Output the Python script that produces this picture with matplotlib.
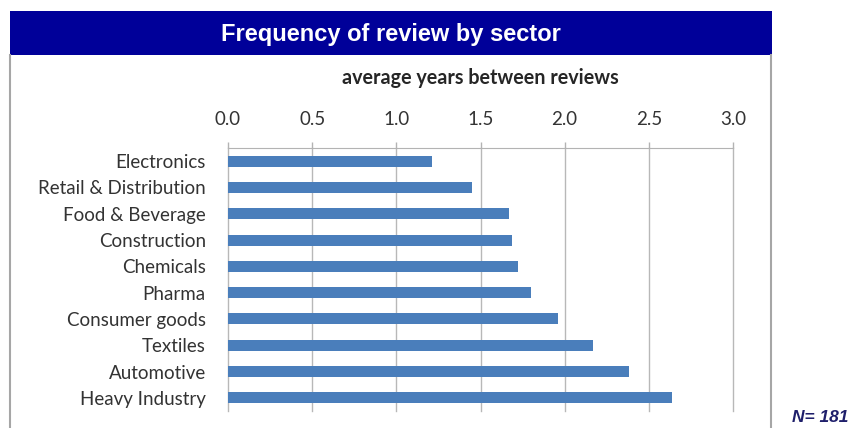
import matplotlib.pyplot as plt
from matplotlib.patches import Rectangle
from matplotlib.lines import Line2D

sectors = [
    "Electronics",
    "Retail & Distribution",
    "Food & Beverage",
    "Construction",
    "Chemicals",
    "Pharma",
    "Consumer goods",
    "Textiles",
    "Automotive",
    "Heavy Industry",
]
years = [1.21, 1.45, 1.67, 1.69, 1.72, 1.80, 1.96, 2.17, 2.38, 2.64]
xticks = [0.0, 0.5, 1.0, 1.5, 2.0, 2.5, 3.0]

W, H = 850, 428
fig = plt.figure(figsize=(8.5, 4.28), dpi=100)

# side frame lines and blue title banner
for x in (10, 771):
    fig.add_artist(Line2D([x / W, x / W], [0, 1 - 55 / H], transform=fig.transFigure,
                          color="#a6a6a6", lw=1.5))
fig.add_artist(Rectangle((10 / W, 1 - 55 / H), 762 / W, 44 / H, transform=fig.transFigure,
                         facecolor="#000099", edgecolor="none"))
fig.text(391 / W, 1 - 34 / H, "Frequency of review by sector", color="white",
         fontsize=17, fontweight="bold", family="Liberation Sans", ha="center", va="center")
fig.text(848 / W, 1 - 418 / H, "N= 181", color="#1f1f6b", fontsize=12.5, fontweight="bold",
         fontstyle="italic", family="Liberation Sans", ha="right", va="center")

ax = fig.add_axes([228 / W, 1 - 411 / H, 505 / W, 263 / H])
ypos = list(range(len(sectors)))
ax.barh(ypos, years, height=0.42, color="#4a7ebb", zorder=3)
ax.set_xlim(0, 3.0)
ax.set_ylim(len(sectors) - 0.5, -0.5)
ax.set_yticks(ypos)
ax.set_yticklabels(sectors, family="Lato", fontsize=13.5, color="#333333")
ax.set_xticks(xticks)
ax.set_xticklabels([f"{t:.1f}" for t in xticks], family="Lato", fontsize=13.5, color="#333333")
ax.xaxis.tick_top()
ax.xaxis.set_label_position("top")
ax.set_xlabel("average years between reviews", family="Lato", fontsize=14.2,
              fontweight="bold", color="#262626", labelpad=19.5)
ax.tick_params(axis="x", length=4, width=1, color="#b3b3b3", pad=10.5)
ax.tick_params(axis="y", length=0, pad=16)
ax.grid(axis="x", color="#b8b8b8", lw=1, zorder=0)
for gl in ax.get_xgridlines():
    gl.set_clip_on(False)
for s in ("left", "right", "bottom"):
    ax.spines[s].set_visible(False)
ax.spines["top"].set_color("#b3b3b3")

fig.savefig("out.png", dpi=100)
